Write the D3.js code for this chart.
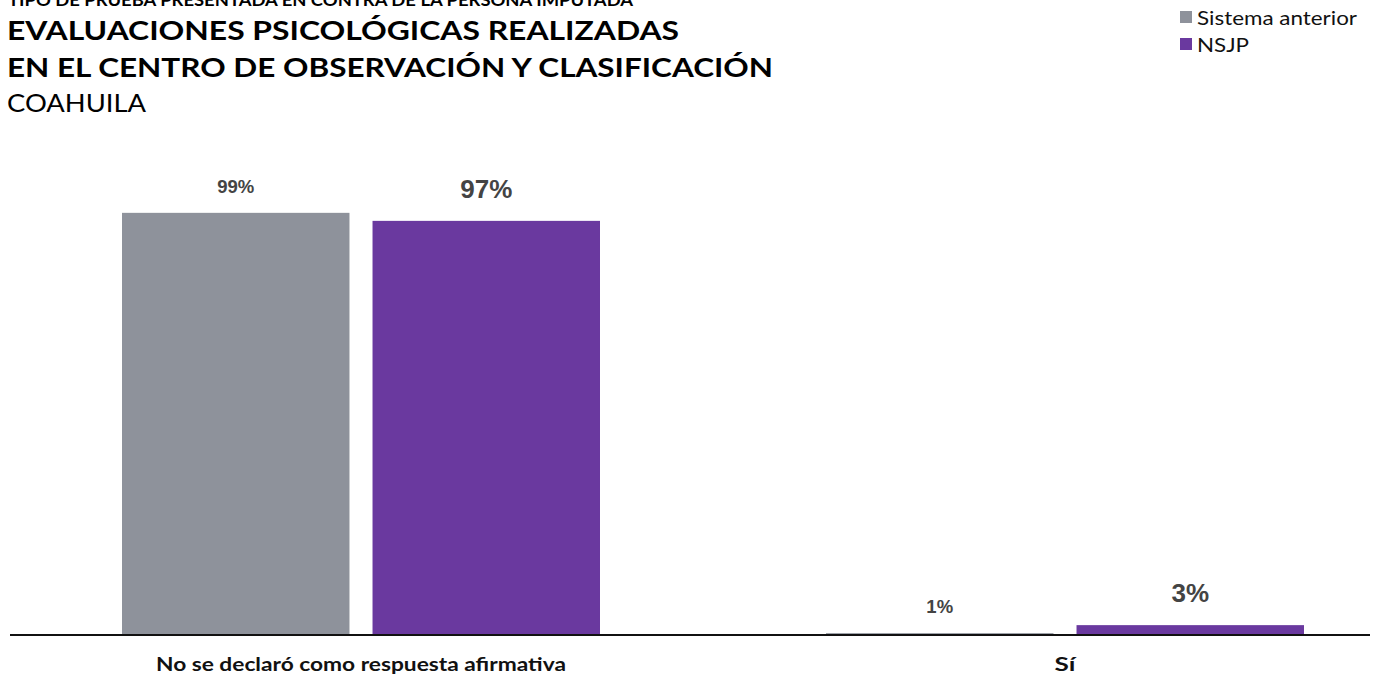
<!DOCTYPE html>
<html><head><meta charset="utf-8">
<script src="https://cdn.jsdelivr.net/npm/d3@7"></script>
<style>
html,body{margin:0;padding:0;background:#fff;}
svg{display:block;}
</style></head>
<body>
<script>
const categories = ["No se declaró como respuesta afirmativa", "Sí"];
const seriesNames = ["Sistema anterior", "NSJP"];
const sistemaAnterior = [99.8, 0.2];
const nsjp = [97.9, 2.1];
const sistemaLabels = ["99%", "1%"];
const nsjpLabels = ["97%", "3%"];
const colors = ["#8e929b", "#6a399f"];

const W = 1374, H = 679;
const svg = d3.select("body").append("svg").attr("width", W).attr("height", H);

const baseY = 634;
const y = d3.scaleLinear().domain([0, 100]).range([baseY, 212]);
const x0 = d3.scaleBand().domain(categories).range([9, 1417]).padding(0);
const x1 = d3.scaleBand().domain(seriesNames).range([113, 591]).paddingInner(0.092).paddingOuter(0);

const series = [
  {name: seriesNames[0], values: sistemaAnterior, labels: sistemaLabels, color: colors[0], fs: 18.5, off: 20, lw: 160},
  {name: seriesNames[1], values: nsjp, labels: nsjpLabels, color: colors[1], fs: 26, off: 23, lw: 52}
];

function stretched(sel, len) {
  return sel.attr("textLength", len).attr("lengthAdjust", "spacingAndGlyphs");
}

// Titles
stretched(svg.append("text").attr("x", 8).attr("y", 6)
  .attr("font-family", "Lato").attr("font-weight", 700).attr("font-size", 17)
  .text("TIPO DE PRUEBA PRESENTADA EN CONTRA DE LA PERSONA IMPUTADA"), 625);
stretched(svg.append("text").attr("x", 7).attr("y", 39.5)
  .attr("font-family", "Lato").attr("font-weight", 700).attr("font-size", 27)
  .text("EVALUACIONES  PSICOLÓGICAS REALIZADAS"), 672);
stretched(svg.append("text").attr("x", 7).attr("y", 76.5)
  .attr("font-family", "Lato").attr("font-weight", 700).attr("font-size", 27)
  .text("EN EL CENTRO DE OBSERVACIÓN  Y CLASIFICACIÓN"), 766);
stretched(svg.append("text").attr("x", 7).attr("y", 111.5)
  .attr("font-family", "Lato").attr("font-weight", 400).attr("font-size", 25)
  .text("COAHUILA"), 139);

// Legend
const leg = svg.append("g");
series.forEach((s, i) => {
  leg.append("rect").attr("x", 1180).attr("y", 11 + i * 27).attr("width", 12).attr("height", 12).attr("fill", s.color);
  stretched(leg.append("text").attr("x", 1197).attr("y", 25 + i * 27)
    .attr("font-family", "Lato").attr("font-size", 20).attr("fill", "#111")
    .text(s.name), s.lw);
});

// Bars
const g = svg.append("g");
categories.forEach((c, ci) => {
  series.forEach(s => {
    const bx = x0(c) + x1(s.name);
    const v = s.values[ci];
    g.append("rect").attr("x", bx).attr("y", y(v)).attr("width", x1.bandwidth())
      .attr("height", baseY - y(v)).attr("fill", s.color);
    g.append("text").attr("x", bx + x1.bandwidth() / 2).attr("y", y(v) - s.off)
      .attr("text-anchor", "middle").attr("font-family", "Liberation Sans, Arial, sans-serif")
      .attr("font-weight", 700).attr("font-size", s.fs).attr("fill", "#444")
      .text(s.labels[ci]);
  });
});

// Axis line
svg.append("line").attr("x1", 10).attr("x2", 1370).attr("y1", baseY + 1).attr("y2", baseY + 1)
  .attr("stroke", "#111").attr("stroke-width", 2);

// Category labels
const catLen = [410, 21];
categories.forEach((c, i) => {
  stretched(svg.append("text").attr("x", x0(c) + 352).attr("y", 671)
    .attr("text-anchor", "middle").attr("font-family", "Lato").attr("font-weight", 700)
    .attr("font-size", 18).attr("fill", "#111").text(c), catLen[i]);
});
</script>
</body></html>
